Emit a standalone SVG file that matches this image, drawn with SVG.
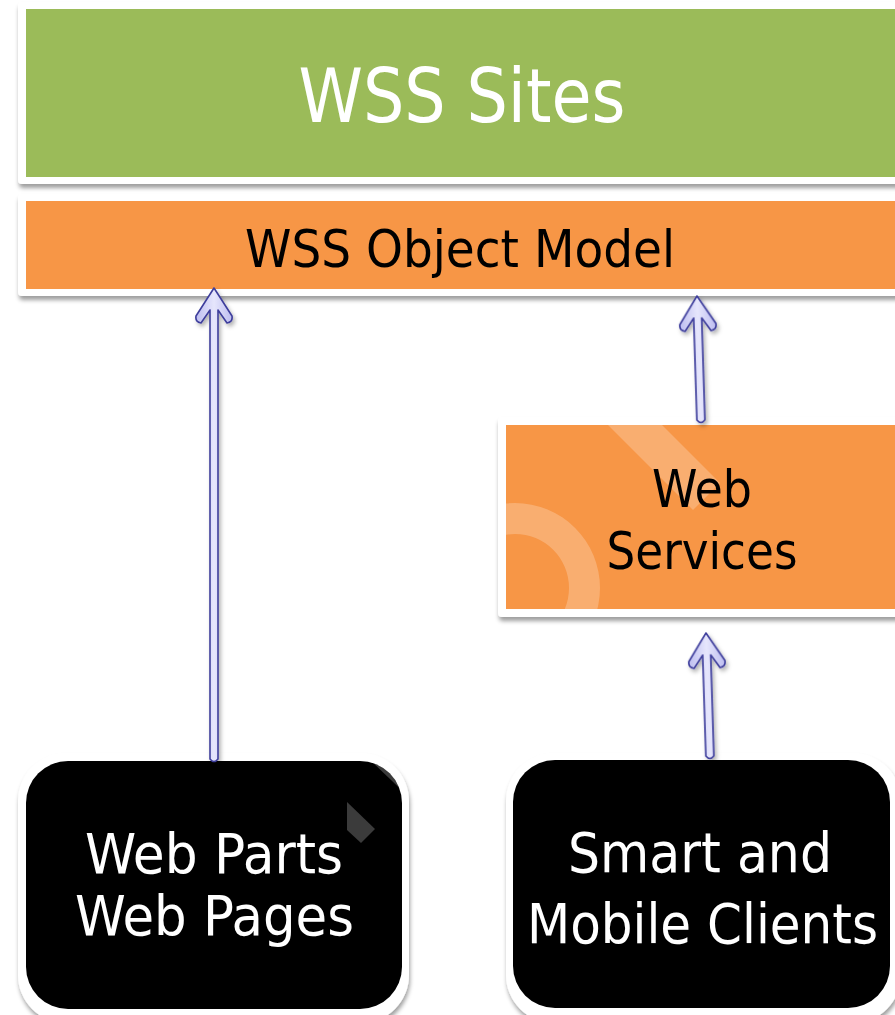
<svg xmlns="http://www.w3.org/2000/svg" width="895" height="1015" viewBox="0 0 895 1015">
<defs>
<style>
.t{font-family:"DejaVu Sans Condensed","DejaVu Sans","Liberation Sans",sans-serif;text-anchor:middle}
.w{fill:#ffffff}
.k{fill:#000000}
.frame{fill:#ffffff}
.green{fill:#9BBB59}
.orange{fill:#F79646}
.black{fill:#000000}
.arrow{fill:url(#ag);stroke:#3E3E9C;stroke-width:1.6;stroke-linejoin:round}
.wm{fill:#ffffff;fill-opacity:0.23}
</style>
<filter id="sh" x="-10%" y="-10%" width="120%" height="130%">
<feDropShadow dx="1" dy="4" stdDeviation="2.2" flood-color="#000000" flood-opacity="0.38"/>
</filter>
<filter id="ash" x="-50%" y="-10%" width="200%" height="130%">
<feDropShadow dx="2" dy="3" stdDeviation="2" flood-color="#000000" flood-opacity="0.3"/>
</filter>
<linearGradient id="ag" x1="0" y1="0" x2="1" y2="0">
<stop offset="0" stop-color="#BDBDF0"/>
<stop offset="0.5" stop-color="#E6E6FC"/>
<stop offset="1" stop-color="#BDBDF0"/>
</linearGradient>
<clipPath id="cws"><rect x="506" y="425" width="400" height="184"/></clipPath>
<clipPath id="cleft"><rect x="26" y="761" width="376" height="248" rx="42" ry="42"/></clipPath>
</defs>
<rect width="895" height="1015" fill="#ffffff"/>

<g id="wss-sites">
<rect class="frame" x="18" y="2" width="890" height="182" rx="4" filter="url(#sh)"/>
<rect class="green" x="26" y="9" width="880" height="168"/>
<text class="t w" x="462" y="122" font-size="75" textLength="327" lengthAdjust="spacingAndGlyphs">WSS Sites</text>
</g>

<g id="wss-object-model">
<rect class="frame" x="18" y="194" width="890" height="102" rx="4" filter="url(#sh)"/>
<rect class="orange" x="26" y="201" width="880" height="88"/>
<text class="t k" x="460" y="267" font-size="52" textLength="430" lengthAdjust="spacingAndGlyphs">WSS Object Model</text>
</g>

<g id="web-services">
<rect class="frame" x="498" y="417" width="410" height="200" rx="4" filter="url(#sh)"/>
<rect class="orange" x="506" y="425" width="400" height="184"/>
<g clip-path="url(#cws)">
<polygon class="wm" points="608,425 662,425 720,483 693,510"/>
<path class="wm" fill-rule="evenodd" d="M430,588 a85,85 0 1,0 170,0 a85,85 0 1,0 -170,0 Z M461,588 a54,54 0 1,0 108,0 a54,54 0 1,0 -108,0 Z"/>
</g>
<text class="t k" x="702" y="507" font-size="52" textLength="100" lengthAdjust="spacingAndGlyphs">Web</text>
<text class="t k" x="702" y="569" font-size="52" textLength="191" lengthAdjust="spacingAndGlyphs">Services</text>
</g>

<g id="web-parts-pages">
<rect class="frame" x="18" y="753" width="391" height="270" rx="48" ry="48" filter="url(#sh)"/>
<rect class="black" x="26" y="761" width="376" height="248" rx="42" ry="42"/>
<g clip-path="url(#cleft)">
<polygon class="wm" points="368,758 410,758 410,798"/>
<polygon class="wm" points="347,802 375,829 361,843 347,830"/>
</g>
<text class="t w" x="214" y="873" font-size="56" textLength="258" lengthAdjust="spacingAndGlyphs">Web Parts</text>
<text class="t w" x="214.5" y="935" font-size="56" textLength="279" lengthAdjust="spacingAndGlyphs">Web Pages</text>
</g>

<g id="smart-mobile-clients">
<rect class="frame" x="506" y="753" width="395" height="270" rx="48" ry="48" filter="url(#sh)"/>
<rect class="black" x="513" y="760" width="377" height="248" rx="42" ry="42"/>
<text class="t w" x="700" y="872" font-size="56" textLength="264" lengthAdjust="spacingAndGlyphs">Smart and</text>
<text class="t w" x="702.5" y="943" font-size="56" textLength="351" lengthAdjust="spacingAndGlyphs">Mobile Clients</text>
</g>

<g id="connectors" filter="url(#ash)">
<path class="arrow" transform="translate(214,288)" d="M0,0 L-18,28 Q-19,34 -13,35 L-4,22 L-4,471 Q0,476 4,471 L4,22 L13,35 Q19,34 18,28 Z"/>
<path class="arrow" transform="translate(697,296) rotate(-1.8)" d="M0,0 L-18,28 Q-19,34 -13,35 L-4,22 L-4,124 Q0,129 4,124 L4,22 L13,35 Q19,34 18,28 Z"/>
<path class="arrow" transform="translate(706,633) rotate(-1.8)" d="M0,0 L-18,28 Q-19,34 -13,35 L-4,22 L-4,123 Q0,128 4,123 L4,22 L13,35 Q19,34 18,28 Z"/>
</g>
</svg>
